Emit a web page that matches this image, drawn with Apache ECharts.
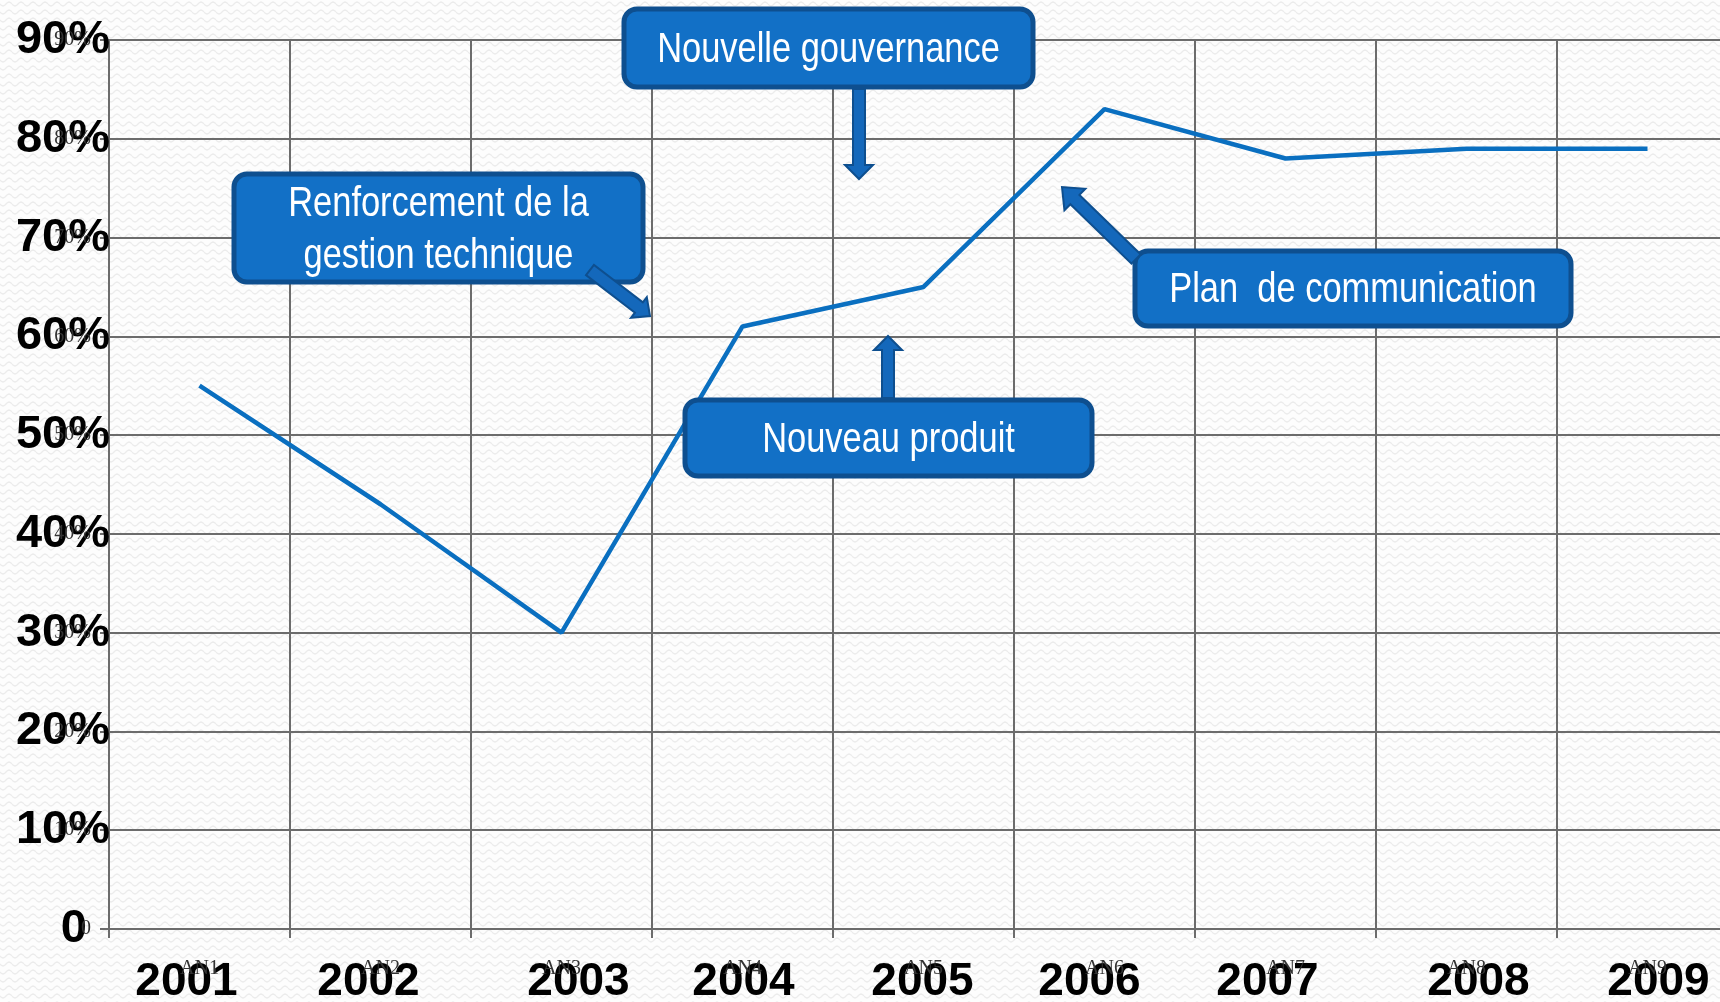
<!DOCTYPE html>
<html>
<head>
<meta charset="utf-8">
<script src="https://cdn.jsdelivr.net/npm/echarts@6/dist/echarts.min.js"></script>
<style>
  html, body { margin: 0; padding: 0; background: #fff; overflow: hidden; }
  #chart { width: 1720px; height: 1002px; }
</style>
</head>
<body>
<div id="chart"></div>
<script>
// données
var years = ['2001', '2002', '2003', '2004', '2005', '2006', '2007', '2008', '2009'];
var periods = ['AN1', 'AN2', 'AN3', 'AN4', 'AN5', 'AN6', 'AN7', 'AN8', 'AN9'];
var rates = [55, 43, 30, 61, 65, 83, 78, 79, 79];
var yTicks = [0, 10, 20, 30, 40, 50, 60, 70, 80, 90];

// les années sont des zones de texte posées à la main, un peu décalées
var labelShift = [-13, -12, 17, 1, -1, -15, -18, 12, 11];

var SANS = '"Liberation Sans", Arial, sans-serif';
var SERIF = '"Liberation Serif", "DejaVu Serif", serif';
var GRID_GRAY = '#6c6c6c';
var BOX_FILL = '#1270c6';
var BOX_EDGE = '#0e4f8f';

// petit motif ondulé du fond
function makeTile() {
  var c = document.createElement('canvas');
  c.width = 12; c.height = 8;
  var ctx = c.getContext('2d');
  ctx.fillStyle = '#fdfdfd';
  ctx.fillRect(0, 0, 12, 8);
  ctx.strokeStyle = '#ececec';
  ctx.lineWidth = 1.4;
  ctx.beginPath();
  for (var i = 0; i <= 12; i++) {
    var y = 4 + 2 * Math.sin(i / 12 * Math.PI * 2);
    if (i === 0) ctx.moveTo(i, y); else ctx.lineTo(i, y);
  }
  ctx.stroke();
  return c;
}

// flèche pleine d'un point à un autre
function arrow(x1, y1, x2, y2, shaft, head, headLen) {
  var dx = x2 - x1, dy = y2 - y1;
  var len = Math.sqrt(dx * dx + dy * dy);
  var ux = dx / len, uy = dy / len, nx = -uy, ny = ux;
  var bx = x2 - ux * headLen, by = y2 - uy * headLen;
  var s = shaft / 2, h = head / 2;
  return {
    type: 'polygon',
    z: 103,
    shape: { points: [
      [x1 + nx * s, y1 + ny * s], [bx + nx * s, by + ny * s], [bx + nx * h, by + ny * h],
      [x2, y2],
      [bx - nx * h, by - ny * h], [bx - nx * s, by - ny * s], [x1 - nx * s, y1 - ny * s]
    ] },
    style: { fill: '#1468bb', stroke: BOX_EDGE, lineWidth: 2 }
  };
}

function box(x, y, w, h, lines, lineGap) {
  var els = [{
    type: 'rect', z: 101,
    shape: { x: x, y: y, width: w, height: h, r: 13 },
    style: { fill: BOX_FILL, stroke: BOX_EDGE, lineWidth: 5 }
  }];
  var cy = y + h / 2 - (lines.length - 1) * lineGap / 2;
  lines.forEach(function (t, i) {
    // police étroite façon Arial Narrow : on comprime horizontalement
    els.push({
      type: 'text', z: 102,
      x: x + w / 2, y: cy + i * lineGap + 2,
      scaleX: 0.82,
      style: {
        text: t, x: 0, y: 0,
        fill: '#ffffff', font: '42px ' + SANS,
        align: 'center', verticalAlign: 'middle'
      }
    });
  });
  return els;
}

var graphics = [].concat(
  box(624, 9, 409, 78, ['Nouvelle gouvernance'], 0),
  [arrow(859, 89, 859, 179, 12, 28, 14)],
  box(234, 174, 409, 108, ['Renforcement de la', 'gestion technique'], 52),
  [arrow(590, 270, 650, 316, 13, 26, 14)],
  box(1135, 251, 436, 75, ['Plan  de communication'], 0),
  [arrow(1136, 259, 1062, 187, 13, 30, 18)],
  box(685, 400, 407, 76, ['Nouveau produit'], 0),
  [arrow(888, 398, 888, 336, 12, 28, 14)]
);

var yearRich = {};
labelShift.forEach(function (d, i) {
  yearRich['y' + i] = {
    fontSize: 46, fontWeight: 'bold', color: '#000', fontFamily: SANS,
    padding: [0, Math.max(0, -2 * d), 0, Math.max(0, 2 * d)]
  };
});

var chart = echarts.init(document.getElementById('chart'));
chart.setOption({
  backgroundColor: { image: makeTile(), repeat: 'repeat' },
  animation: false,
  // la dernière colonne déborde à droite de l'image
  grid: { left: 109, top: 40, width: 1629, height: 889, outerBoundsMode: 'none', containLabel: false },
  xAxis: [{
    type: 'category',
    data: years,
    boundaryGap: true,
    axisLine: { lineStyle: { color: GRID_GRAY, width: 2 } },
    axisTick: { show: true, interval: 0, length: 9, lineStyle: { color: GRID_GRAY, width: 2 } },
    splitLine: { show: true, interval: 0, lineStyle: { color: GRID_GRAY, width: 2 } },
    axisLabel: {
      interval: 0, hideOverlap: false,
      margin: 30, color: '#000', fontSize: 46, fontWeight: 'bold',
      fontFamily: SANS, lineHeight: 46,
      formatter: function (v, i) { return '{y' + i + '|' + v + '}'; },
      rich: yearRich
    }
  }, {
    type: 'category',
    data: periods,
    position: 'bottom',
    axisLine: { show: false },
    axisTick: { show: false },
    splitLine: { show: false },
    axisLabel: {
      interval: 0,
      margin: 30, color: '#333', fontSize: 20,
      fontFamily: SERIF
    }
  }],
  yAxis: [{
    type: 'value',
    min: 0, max: 90, interval: 10,
    axisLine: { show: true, lineStyle: { color: GRID_GRAY, width: 2 } },
    axisTick: { show: true, length: 9, lineStyle: { color: GRID_GRAY, width: 2 } },
    splitLine: { show: true, lineStyle: { color: GRID_GRAY, width: 2 } },
    axisLabel: {
      margin: -1, color: '#000', fontSize: 47, fontWeight: 'bold',
      fontFamily: SANS,
      formatter: function (v) { return v === 0 ? '{z|0}' : v + '%'; },
      rich: { z: { fontSize: 47, fontWeight: 'bold', color: '#000', padding: [0, 23, 0, 0] } }
    }
  }, {
    type: 'value',
    position: 'left',
    min: 0, max: 90, interval: 10,
    axisLine: { show: false },
    axisTick: { show: false },
    splitLine: { show: false },
    axisLabel: {
      margin: 18, color: '#333', fontSize: 20,
      fontFamily: SERIF,
      formatter: function (v) { return v === 0 ? '0' : v + '%'; }
    }
  }],
  series: [{
    type: 'line',
    data: rates,
    xAxisIndex: 0,
    yAxisIndex: 0,
    symbol: 'none',
    lineStyle: { color: '#0a6fc0', width: 4.5 },
    z: 5
  }],
  graphic: graphics
});
</script>
</body>
</html>
